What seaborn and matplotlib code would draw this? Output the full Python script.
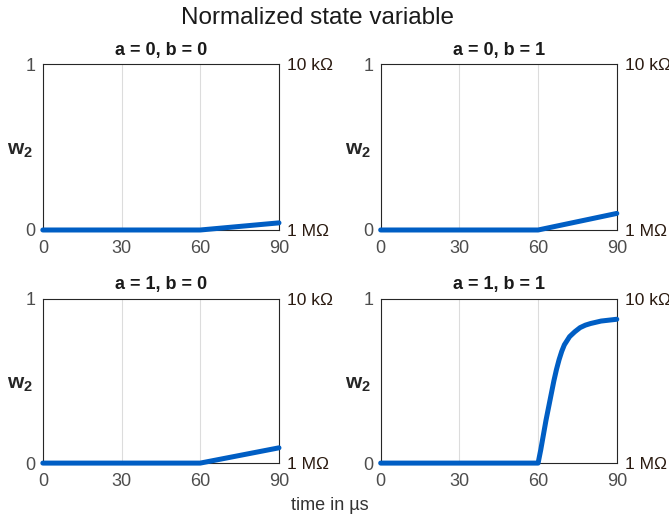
import numpy as np
import pandas as pd
import seaborn as sns
import matplotlib.pyplot as plt

# time points (µs) and normalized state variable w2 for each input combination
t_lin = [0, 30, 60, 90]
w_00 = [0, 0, 0, 0.043]
w_01 = [0, 0, 0, 0.100]
w_10 = [0, 0, 0, 0.093]
t_rise = [0, 30, 60, 61, 62, 63, 64, 65, 66, 67, 68, 69, 70, 72, 74, 76, 78, 80, 84, 90]
w_11 = [0, 0, 0, 0.08, 0.17, 0.26, 0.34, 0.42, 0.50, 0.57, 0.63, 0.68, 0.72,
        0.77, 0.80, 0.825, 0.84, 0.85, 0.865, 0.876]

titles = ['a = 0, b = 0', 'a = 0, b = 1', 'a = 1, b = 0', 'a = 1, b = 1']
series = [(t_lin, w_00), (t_lin, w_01), (t_lin, w_10), (t_rise, w_11)]
right_labels = ['1 M\u03a9', '10 k\u03a9']

sns.set_style('white')
plt.rcParams['font.family'] = ['Liberation Sans', 'DejaVu Sans']
plt.rcParams['mathtext.fontset'] = 'custom'
plt.rcParams['mathtext.bf'] = 'Liberation Sans:bold'

fig = plt.figure(figsize=(6.69, 5.18), dpi=100)
boxes = [[0.064, 0.556, 0.353, 0.320], [0.569, 0.556, 0.353, 0.320],
         [0.064, 0.106, 0.353, 0.317], [0.569, 0.106, 0.353, 0.317]]

line_col = '#005ec4'
for box, ttl, (tt, w) in zip(boxes, titles, series):
    ax = fig.add_axes(box)
    df = pd.DataFrame({'t': tt, 'w': w})
    sns.lineplot(data=df, x='t', y='w', ax=ax, color=line_col, linewidth=3.6,
                 clip_on=False, zorder=5)
    ax.set_xlim(0, 90)
    ax.set_ylim(0, 1)
    ax.set_xticks([0, 30, 60, 90])
    ax.set_yticks([0, 1])
    ax.set_yticklabels(['0', '1'])
    ax.grid(axis='x', color='#dcdcdc', linewidth=0.8)
    ax.tick_params(axis='x', labelcolor='#4d4d4d', labelsize=13, length=0, pad=7)
    ax.tick_params(axis='y', labelcolor='#4d4d4d', labelsize=13, length=0, pad=5)
    for s in ax.spines.values():
        s.set_color('#262626')
        s.set_linewidth(0.8)
    ax.set_xlabel('')
    ax.set_ylabel(r'$\mathbf{w_2}$', rotation=0, fontsize=15, color='#262626',
                  va='center', ha='center')
    ax.yaxis.set_label_coords(-0.095, 0.48)
    ax.set_title(ttl, fontsize=13, fontweight='bold', color='#1a1a1a', pad=7)
    ax2 = ax.twinx()
    ax2.set_ylim(0, 1)
    ax2.set_yticks([0, 1])
    ax2.set_yticklabels(right_labels)
    ax2.tick_params(axis='y', length=0, labelsize=12.5, labelcolor='#2a1a10', pad=6)
    for s in ax2.spines.values():
        s.set_visible(False)

fig.text(0.474, 0.966, 'Normalized state variable', ha='center', va='center',
         fontsize=17.5, color='#1a1a1a')
fig.text(0.493, 0.025, 'time in \u00b5s', ha='center', va='center',
         fontsize=13, color='#333333')

fig.savefig('out.png', dpi=100)
